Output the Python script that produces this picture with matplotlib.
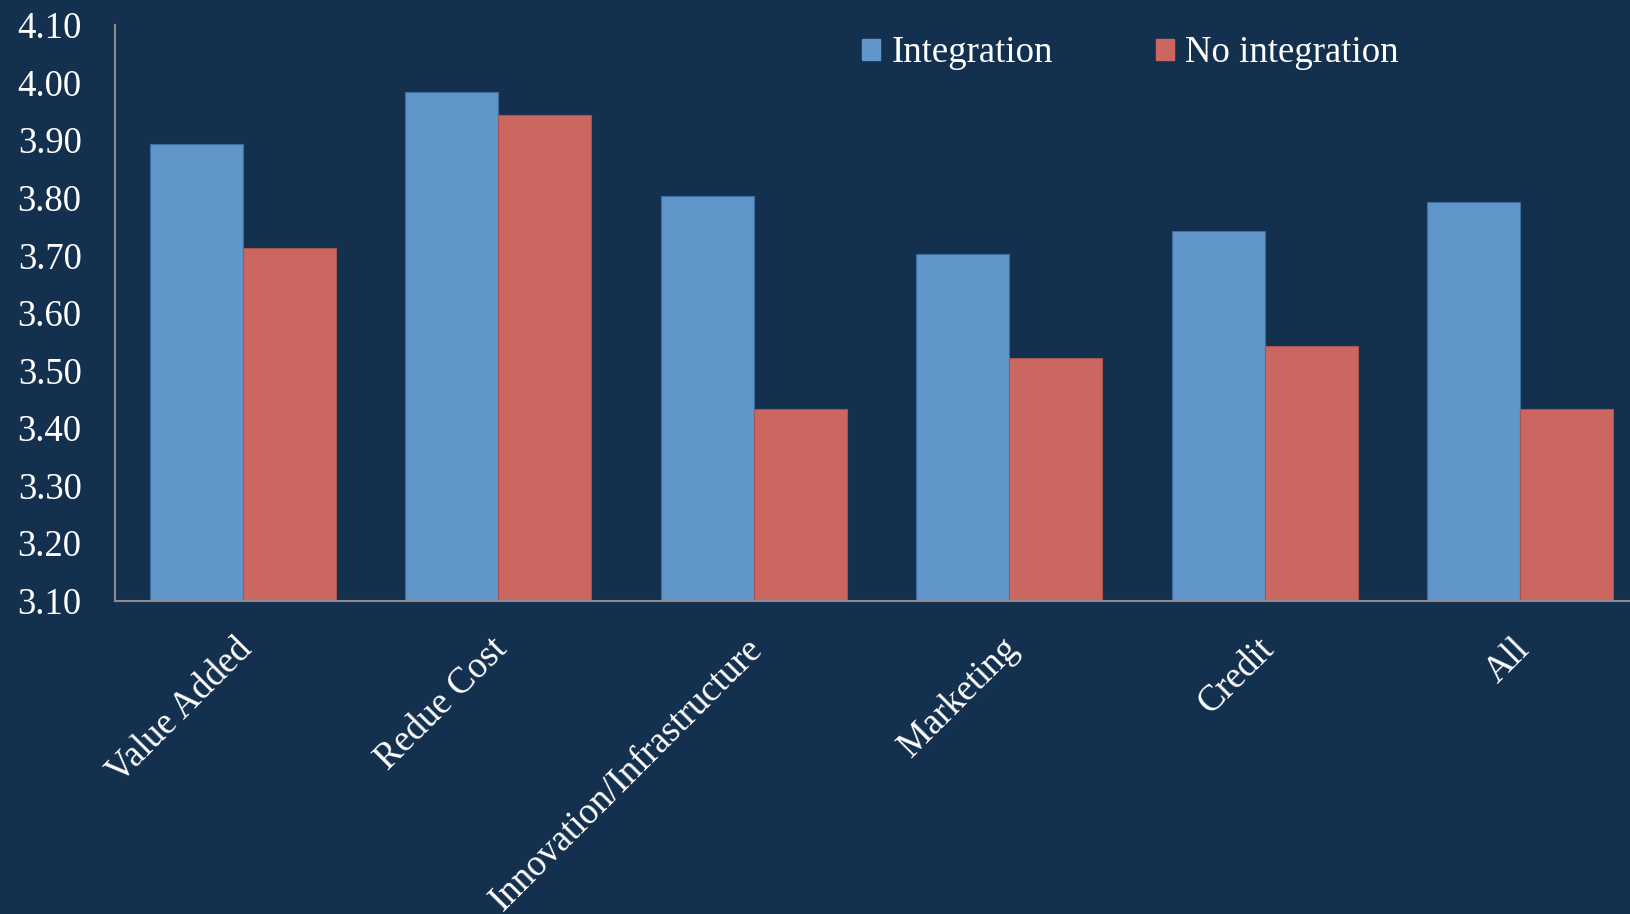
import matplotlib
matplotlib.use("Agg")
import matplotlib.pyplot as plt
import matplotlib.transforms as mtransforms
import numpy as np
from matplotlib.patches import Patch

categories = ["Value Added", "Redue Cost", "Innovation/Infrastructure", "Marketing", "Credit", "All"]
integration = [3.893, 3.983, 3.803, 3.702, 3.743, 3.793]
no_integration = [3.713, 3.943, 3.433, 3.522, 3.543, 3.433]
yticks = [3.10, 3.20, 3.30, 3.40, 3.50, 3.60, 3.70, 3.80, 3.90, 4.00, 4.10]

BG = "#14304F"
BLUE = "#6096C9"
RED = "#CC6660"
FONT = ["Liberation Serif", "DejaVu Serif"]
FS = 26.5

plt.rcParams["font.family"] = FONT

fig = plt.figure(figsize=(16.3, 9.14), dpi=100, facecolor=BG)
ax = fig.add_axes([115 / 1630, (914 - 600.7) / 914, 1533 / 1630, (600.7 - 25) / 914])
ax.set_facecolor(BG)

x = np.arange(len(categories))
w = 0.364
ax.bar(x - w / 2, np.array(integration) - 3.10, w, bottom=3.10, color=BLUE,
       edgecolor="#3F6E9E", linewidth=0.8, label="Integration", zorder=2)
ax.bar(x + w / 2, np.array(no_integration) - 3.10, w, bottom=3.10, color=RED,
       edgecolor="#A65450", linewidth=0.8, label="No integration", zorder=2)

ax.set_xlim(-0.5, len(categories) - 0.5)
ax.set_ylim(3.10, 4.10)
ax.set_yticks(yticks)
ax.set_yticklabels([f"{v:.2f}" for v in yticks], fontsize=FS, color="white")
ax.set_xticks(x)
ax.set_xticklabels(categories, fontsize=FS, color="white", rotation=45,
                   ha="right", va="center", rotation_mode="anchor")
ax.tick_params(axis="y", length=0, pad=24)
ax.tick_params(axis="x", length=0, pad=31)
offset = mtransforms.ScaledTranslation(4 / 100, 0, fig.dpi_scale_trans)
for lab in ax.get_xticklabels():
    lab.set_transform(lab.get_transform() + offset)

for s in ["top", "right"]:
    ax.spines[s].set_visible(False)
for s in ["left", "bottom"]:
    ax.spines[s].set_color("#8C8C8C")
    ax.spines[s].set_linewidth(1.5)

handles = [Patch(facecolor=BLUE, edgecolor=BLUE), Patch(facecolor=RED, edgecolor=RED)]
leg = fig.legend(handles, ["Integration", "No integration"], loc="upper left",
                 bbox_to_anchor=(862 / 1630, 1 - 36 / 914), ncol=2, frameon=False,
                 fontsize=FS, handlelength=0.5, handleheight=0.5, handletextpad=0.3,
                 columnspacing=2.8, borderpad=0, borderaxespad=0)
for t in leg.get_texts():
    t.set_color("white")

fig.savefig("out.png", dpi=100, facecolor=BG)
